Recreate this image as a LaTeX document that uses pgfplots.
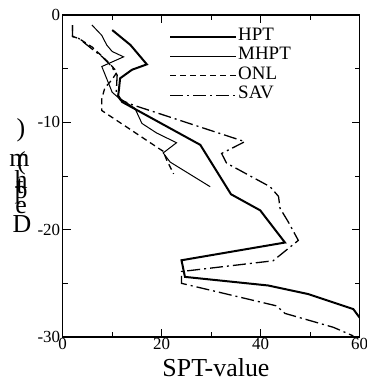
\documentclass[border=0pt]{standalone}
\usepackage{fontspec}
\setmainfont{Liberation Serif}
\usepackage{pgfplots}
\pgfplotsset{compat=1.18}
\begin{document}
\begin{tikzpicture}
\begin{axis}[
  scale only axis, width=297bp, height=322bp,
  xmin=0, xmax=60, ymin=-30, ymax=0,
  xtick={0,20,40,60}, xticklabels={0,20,40,60},
  minor xtick={10,30,50},
  ytick={-30,-20,-10,0}, yticklabels={-30,-20,-10,0},
  minor ytick={-25,-15,-5},
  tick align=inside,
  major tick length=8bp, minor tick length=5bp,
  every tick/.style={black, line width=1bp},
  axis line style={line width=1.4bp},
  ticklabel style={font=\fontsize{17}{17}\selectfont},
  xticklabel style={yshift=2bp},
  yticklabel style={xshift=1bp},
  xlabel={SPT-value},
  xlabel style={at={(axis description cs:0.516,0)}, anchor=base, yshift=-39bp, font=\fontsize{26}{26}\selectfont},
  legend cell align=left,
  legend style={draw=none, fill=none, at={(axis description cs:0.348,0.968)}, anchor=north west,
    font=\fontsize{19}{19}\selectfont, row sep=1bp,
    nodes={inner sep=1bp, text height=12bp, text depth=4.5bp}},
  legend image code/.code={\draw[#1] (0bp,0bp) -- (66bp,0bp);},
]
\addplot[black, line width=2bp] coordinates {
(10,-1.4) (13.7,-2.8) (17,-4.6) (14,-5.1) (11.6,-5.9) (11.3,-7.2) (11.2,-7.5) (12,-8.1)
(27.8,-12.1) (34,-16.7) (39.9,-18.2) (44.9,-21.2) (24.0,-22.85) (24.7,-24.4)
(41.5,-25.2) (49.6,-26.0) (58.7,-27.4) (60,-28.2)
};
\addlegendentry{HPT}
\addplot[black, line width=1bp] coordinates {
(5.9,-0.93) (7.9,-1.9) (8.9,-2.8) (10.0,-3.4) (12.3,-3.9) (7.9,-4.8) (10,-7.2) (11,-7.6)
(14.6,-8.7) (16,-10.1) (19,-11) (23,-11.9) (20.3,-12.85) (21.7,-13.7) (29.8,-16.0)
};
\addlegendentry{MHPT}
\addplot[black, line width=1.3bp, dash pattern=on 6bp off 4bp] coordinates {
(2,-0.95) (2,-2.0) (3.3,-2.2) (6,-3.0) (9,-4.3) (11,-5.3) (10,-6.0) (8.5,-6.8)
(7.9,-7.8) (7.9,-8.9) (20.3,-12.7) (21,-13.5) (22.4,-14.8)
};
\addlegendentry{ONL}
\addplot[black, line width=1.3bp, dash pattern=on 13bp off 4bp on 2bp off 4bp] coordinates {
(2,-0.95) (2,-2.0) (3.3,-2.2) (6.3,-3.3) (8,-3.9) (9.7,-4.7) (11,-5.6) (10.8,-7.4)
(11.6,-7.9) (14.3,-8.4) (36.8,-11.8) (32.1,-12.9) (33.1,-13.8) (41.9,-16) (43.6,-16.9)
(43.9,-18) (45.6,-19.3) (47.6,-21) (42.5,-22.9) (24,-23.9) (24,-25) (43.2,-27.1)
(44.9,-27.8) (54.7,-29.1) (58.7,-29.9)
};
\addlegendentry{SAV}
\end{axis}
\begin{scope}[every node/.style={inner sep=0pt, font=\fontsize{26}{26}\selectfont}]
\node at (-41.7bp,207bp) {)};
\node at (-43.2bp,177bp) {m};
\node at (-41.2bp,174bp) {(};
\node at (-42.7bp,151bp) {t};
\node at (-41.7bp,157bp) {h};
\node at (-41.7bp,142bp) {p};
\node at (-41.7bp,129bp) {e};
\node at (-40.7bp,113bp) {D};
\end{scope}
\pgfresetboundingbox
\path[use as bounding box] (-62.7bp,-43bp) rectangle (304.3bp,337bp);
\end{tikzpicture}
\end{document}
